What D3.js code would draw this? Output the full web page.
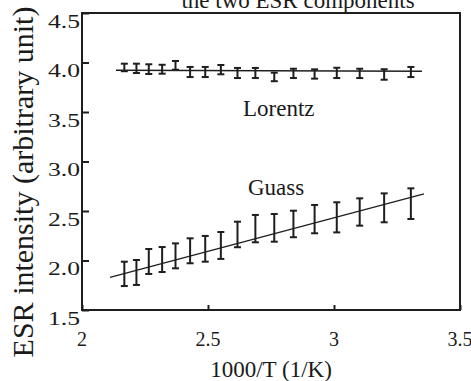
<!DOCTYPE html>
<html><head><meta charset="utf-8">
<script src="https://cdn.jsdelivr.net/npm/d3@7"></script>
<style>
html,body{margin:0;padding:0;background:#fff;}
svg{display:block;}
text{font-family:"Liberation Serif","Times New Roman",serif;fill:#1a1a1a;}
</style></head>
<body>
<script>
// ---- data ----
const xValues = [2.168, 2.216, 2.265, 2.318, 2.371, 2.429, 2.489, 2.551, 2.617, 2.688, 2.763, 2.839, 2.923, 3.011, 3.102, 3.199, 3.305];
const lorentzValues = [3.950, 3.941, 3.933, 3.932, 3.971, 3.904, 3.904, 3.928, 3.894, 3.894, 3.854, 3.890, 3.884, 3.895, 3.890, 3.879, 3.904];
const lorentzErrors = [0.038, 0.047, 0.049, 0.045, 0.044, 0.051, 0.051, 0.047, 0.051, 0.051, 0.043, 0.047, 0.047, 0.052, 0.047, 0.053, 0.051];
const guassValues = [1.865, 1.879, 1.990, 2.010, 2.047, 2.098, 2.118, 2.152, 2.263, 2.322, 2.330, 2.369, 2.418, 2.436, 2.490, 2.532, 2.574];
const guassErrors = [0.123, 0.126, 0.126, 0.126, 0.126, 0.126, 0.130, 0.136, 0.129, 0.138, 0.140, 0.134, 0.143, 0.152, 0.138, 0.146, 0.155];
const lorentzFitX = [2.135, 3.349];
const lorentzFitY = [3.921, 3.911];
const guassFitX = [2.111, 3.357];
const guassFitY = [1.830, 2.672];
const xTicks = [2, 2.5, 3, 3.5];
const xTickLabels = ["2", "2.5", "3", "3.5"];
const yTicks = [1.5, 2.0, 2.5, 3.0, 3.5, 4.0, 4.5];
const yTickLabels = ["1.5", "2.0", "2.5", "3.0", "3.5", "4.0", "4.5"];
const titleText = "the two ESR components";
const xTitle = "1000/T (1/K)";
const yTitle = "ESR intensity (arbitrary unit)";
const seriesLabels = ["Lorentz", "Guass"];

// ---- drawing ----
const W = 471, H = 381;
const svg = d3.select("body").append("svg").attr("width", W).attr("height", H);
const x = d3.scaleLinear().domain([2, 3.5]).range([82, 460]);
const y = d3.scaleLinear().domain([1.5, 4.5]).range([310, 13]);
const ink = "#1e1e1e";

// title (partly cut off at top)
svg.append("text").attr("x", 298).attr("y", 8).attr("text-anchor", "middle")
  .attr("font-size", 23).text(titleText);

// frame
svg.append("rect").attr("x", x(2)).attr("y", y(4.5))
  .attr("width", x(3.5) - x(2)).attr("height", y(1.5) - y(4.5))
  .attr("fill", "none").attr("stroke", ink).attr("stroke-width", 2);

// x ticks (inward)
const xAxis = d3.axisBottom(x).tickValues(xTicks).tickSize(-5).tickFormat(() => "");
const gx = svg.append("g").attr("transform", `translate(0,${y(1.5)})`).call(xAxis);
gx.select(".domain").remove();
gx.selectAll("line").attr("stroke", ink).attr("stroke-width", 2);
svg.selectAll(".xlab").data(xTicks).enter().append("text")
  .attr("x", d => x(d)).attr("y", 346).attr("text-anchor", "middle")
  .attr("font-size", 20).text((d, i) => xTickLabels[i]);

// y ticks (inward)
const yAxis = d3.axisLeft(y).tickValues(yTicks).tickSize(-7).tickFormat(() => "");
const gy = svg.append("g").attr("transform", `translate(${x(2)},0)`).call(yAxis);
gy.select(".domain").remove();
gy.selectAll("line").attr("stroke", ink).attr("stroke-width", 2);
svg.selectAll(".ylab").data(yTicks).enter().append("text")
  .attr("transform", d => `translate(80,${y(d) + 14.5}) scale(1.35,1)`)
  .attr("text-anchor", "end").attr("font-size", 19).text((d, i) => yTickLabels[i]);

// axis titles
svg.append("text").attr("x", 271).attr("y", 377).attr("text-anchor", "middle")
  .attr("font-size", 23).text(xTitle);
svg.append("text").attr("transform", `translate(33,${182}) rotate(-90)`)
  .attr("text-anchor", "middle").attr("font-size", 30).text(yTitle);

// fit lines
const line = d3.line().x(d => x(d[0])).y(d => y(d[1]));
svg.append("path").datum(d3.zip(lorentzFitX, lorentzFitY)).attr("d", line)
  .attr("fill", "none").attr("stroke", ink).attr("stroke-width", 1.6);
svg.append("path").datum(d3.zip(guassFitX, guassFitY)).attr("d", line)
  .attr("fill", "none").attr("stroke", ink).attr("stroke-width", 1.3);

// error bars
function errorBars(vals, errs, cap) {
  const g = svg.append("g").attr("stroke", ink).attr("stroke-width", 2).attr("fill", "none");
  vals.forEach((v, i) => {
    const cx = x(xValues[i]);
    const top = y(v + errs[i]), bot = y(v - errs[i]);
    g.append("line").attr("x1", cx).attr("x2", cx).attr("y1", top).attr("y2", bot);
    g.append("line").attr("x1", cx - cap).attr("x2", cx + cap).attr("y1", top).attr("y2", top);
    g.append("line").attr("x1", cx - cap).attr("x2", cx + cap).attr("y1", bot).attr("y2", bot);
  });
}
errorBars(lorentzValues, lorentzErrors, 3.5);
errorBars(guassValues, guassErrors, 3.5);

// series labels
svg.append("text").attr("x", 243).attr("y", 116).attr("font-size", 23).text(seriesLabels[0]);
svg.append("text").attr("x", 248).attr("y", 195).attr("font-size", 23).text(seriesLabels[1]);
</script>
</body></html>
